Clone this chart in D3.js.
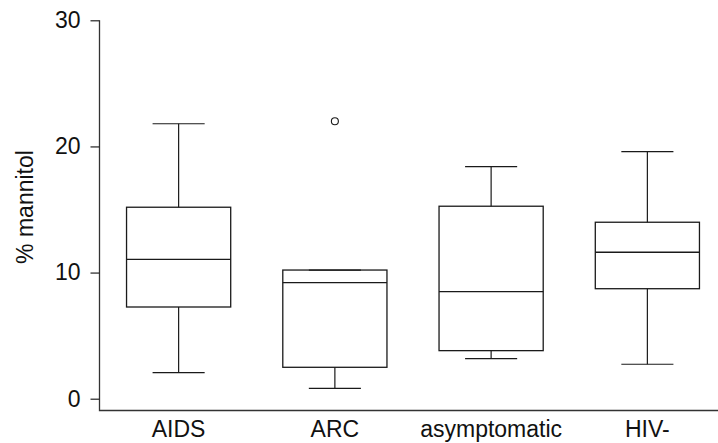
<!DOCTYPE html>
<html>
<head>
<meta charset="utf-8">
<script src="https://cdn.jsdelivr.net/npm/d3@7"></script>
<style>
  body { margin: 0; background: #fff; }
  svg { display: block; }
  text { font-family: "Liberation Sans", Arial, sans-serif; fill: #111; }
  .axis text { font-size: 23px; }
  .axis line { stroke: #222; }
</style>
</head>
<body>
<svg id="chart" width="718" height="443"></svg>
<script>
// box plot summary per group
let groups = ["AIDS", "ARC", "asymptomatic", "HIV-"]
let whiskerLow = [2.06, 0.82, 3.17, 2.73]
let q1 = [7.27, 2.49, 3.81, 8.72]
let median = [11.05, 9.2, 8.49, 11.61]
let q3 = [15.18, 10.2, 15.26, 13.99]
let whiskerHigh = [21.8, 10.2, 18.4, 19.59]
let outlierGroups = ["ARC"]
let outlierValues = [22.0]
let yTicks = [0, 10, 20, 30]
let yLabel = "% mannitol"

let data = groups.map(function (g, i) {
    return {g: g, lo: whiskerLow[i], q1: q1[i], med: median[i], q3: q3[i], hi: whiskerHigh[i]}
})

let svg = d3.select("#chart")
let stroke = "#1a1a1a"

let xScale = d3.scaleBand().domain(groups).range([100.5, 725.5])
                .paddingInner(1/3).paddingOuter(1/6)
let yScale = d3.scaleLinear().domain([0, 30]).range([398.7, 20.3])
let bottom = 410.5
let left = 99.5

// frame: y axis line runs below zero down to the bottom line
svg.append("path")
    .attr("d", `M${left},${yScale(30)}V${bottom}H718`)
    .attr("fill", "none")
    .attr("stroke", "#333")
    .attr("stroke-width", 1.3)

// Y axis
let y_axis = d3.axisLeft(yScale).tickValues(yTicks).tickSize(9).tickPadding(10)
let gy = svg.append("g").attr("class", "axis")
    .attr("transform", `translate(${left},0)`)
    .call(y_axis)
gy.select(".domain").remove()
gy.selectAll("line").attr("stroke-width", 1.2)

// X labels
svg.append("g").attr("class", "axis")
    .selectAll("text")
    .data(groups)
    .enter()
    .append("text")
    .attr("x", function (d) { return xScale(d) + xScale.bandwidth() / 2 })
    .attr("y", 437)
    .attr("text-anchor", "middle")
    .text(function (d) { return d })

// Y label
svg.append("text")
    .attr("transform", `translate(${33},${207}) rotate(270)`)
    .attr("text-anchor", "middle")
    .style("font-size", "23px")
    .text(yLabel)

// boxes
let bw = xScale.bandwidth()
let boxes = svg.selectAll(".box")
    .data(data)
    .enter()
    .append("g")
    .attr("class", "box")
    .attr("transform", function (d) { return `translate(${xScale(d.g)},0)` })

// whisker stems
boxes.append("line")
    .attr("x1", bw / 2).attr("x2", bw / 2)
    .attr("y1", function (d) { return yScale(d.hi) })
    .attr("y2", function (d) { return yScale(d.q3) })
    .attr("stroke", stroke).attr("stroke-width", 1.2)
boxes.append("line")
    .attr("x1", bw / 2).attr("x2", bw / 2)
    .attr("y1", function (d) { return yScale(d.q1) })
    .attr("y2", function (d) { return yScale(d.lo) })
    .attr("stroke", stroke).attr("stroke-width", 1.2)
// caps
boxes.append("line")
    .attr("x1", bw / 4).attr("x2", bw * 3 / 4)
    .attr("y1", function (d) { return yScale(d.hi) })
    .attr("y2", function (d) { return yScale(d.hi) })
    .attr("stroke", stroke).attr("stroke-width", 1.2)
boxes.append("line")
    .attr("x1", bw / 4).attr("x2", bw * 3 / 4)
    .attr("y1", function (d) { return yScale(d.lo) })
    .attr("y2", function (d) { return yScale(d.lo) })
    .attr("stroke", stroke).attr("stroke-width", 1.2)
// box
boxes.append("rect")
    .attr("x", 0)
    .attr("width", bw)
    .attr("y", function (d) { return yScale(d.q3) })
    .attr("height", function (d) { return yScale(d.q1) - yScale(d.q3) })
    .attr("fill", "none")
    .attr("stroke", stroke).attr("stroke-width", 1.3)
// median
boxes.append("line")
    .attr("x1", 0).attr("x2", bw)
    .attr("y1", function (d) { return yScale(d.med) })
    .attr("y2", function (d) { return yScale(d.med) })
    .attr("stroke", stroke).attr("stroke-width", 1.3)

// outliers
svg.selectAll(".outlier")
    .data(outlierValues)
    .enter()
    .append("circle")
    .attr("class", "outlier")
    .attr("cx", function (d, i) { return xScale(outlierGroups[i]) + bw / 2 })
    .attr("cy", function (d) { return yScale(d) })
    .attr("r", 3.5)
    .attr("fill", "none")
    .attr("stroke", stroke).attr("stroke-width", 1.1)
</script>
</body>
</html>
